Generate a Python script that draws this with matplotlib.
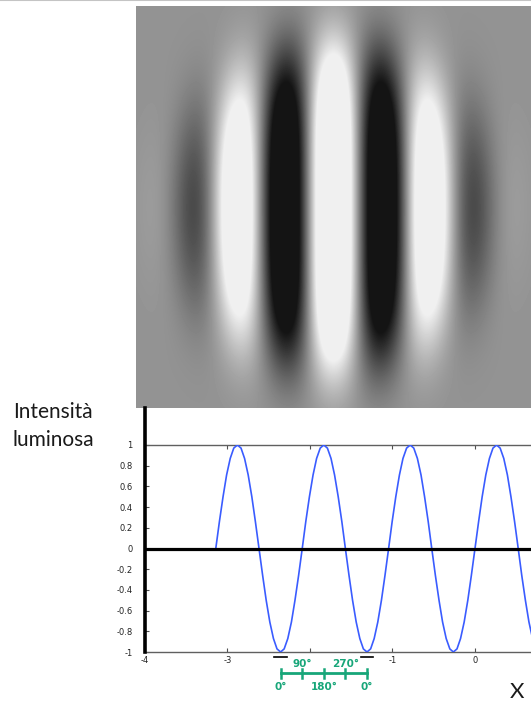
import numpy as np
import matplotlib
matplotlib.use("Agg")
import matplotlib.pyplot as plt
from matplotlib.lines import Line2D
from matplotlib.transforms import blended_transform_factory

# curva di intensità (campioni)
curve_x = [
    -3.142, -3.098, -3.054, -3.011, -2.967, -2.924, -2.880, -2.836, -2.793, -2.749,
    -2.705, -2.662, -2.618, -2.574, -2.531, -2.487, -2.443, -2.400, -2.356, -2.313,
    -2.269, -2.225, -2.182, -2.138, -2.094, -2.051, -2.007, -1.963, -1.920, -1.876,
    -1.833, -1.789, -1.745, -1.702, -1.658, -1.614, -1.571, -1.527, -1.484, -1.440,
    -1.396, -1.353, -1.309, -1.265, -1.222, -1.178, -1.134, -1.091, -1.047, -1.004,
    -0.960, -0.916, -0.873, -0.829, -0.785, -0.742, -0.698, -0.654, -0.611, -0.567,
    -0.524, -0.480, -0.436, -0.393, -0.349, -0.305, -0.262, -0.218, -0.175, -0.131,
    -0.087, -0.044, 0.000, 0.044, 0.087, 0.131, 0.175, 0.218, 0.262, 0.305,
    0.349, 0.393, 0.436, 0.480, 0.524, 0.567, 0.611, 0.654, 0.698,
]
curve_y = [
    0.00, 0.26, 0.50, 0.71, 0.87, 0.97, 1.00, 0.97, 0.87, 0.71,
    0.50, 0.26, 0.00, -0.26, -0.50, -0.71, -0.87, -0.97, -1.00, -0.97,
    -0.87, -0.71, -0.50, -0.26, 0.00, 0.26, 0.50, 0.71, 0.87, 0.97,
    1.00, 0.97, 0.87, 0.71, 0.50, 0.26, 0.00, -0.26, -0.50, -0.71,
    -0.87, -0.97, -1.00, -0.97, -0.87, -0.71, -0.50, -0.26, 0.00, 0.26,
    0.50, 0.71, 0.87, 0.97, 1.00, 0.97, 0.87, 0.71, 0.50, 0.26,
    0.00, -0.26, -0.50, -0.71, -0.87, -0.97, -1.00, -0.97, -0.87, -0.71,
    -0.50, -0.26, 0.00, 0.26, 0.50, 0.71, 0.87, 0.97, 1.00, 0.97,
    0.87, 0.71, 0.50, 0.26, 0.00, -0.26, -0.50, -0.71, -0.87,
]

yticks = [1, 0.8, 0.6, 0.4, 0.2, 0, -0.2, -0.4, -0.6, -0.8, -1]
ytick_labels = ["1", "0.8", "0.6", "0.4", "0.2", "0", "-0.2", "-0.4", "-0.6", "-0.8", "-1"]
xticks = [-4, -3, -2, -1, 0]
xtick_labels = ["-4", "-3", "", "-1", "0"]

# scala delle fasi (un periodo, da minimo a minimo)
phase_start = -2.356
phase_period = 1.047
phase_angles = [0, 90, 180, 270, 360]
phase_labels = ["0°", "90°", "180°", "270°", "0°"]

# parametri dello stimolo (Gabor)
gabor_size = (402, 395)     # righe, colonne
gabor_center = (201, 197)
gabor_wavelength = 98.0
gabor_radius = (160.0, 140.0)   # verticale, orizzontale
gabor_contrast = 0.85
gabor_bg = 0.576

W, H = 531, 704
fig = plt.figure(figsize=(W / 100, H / 100), dpi=100)
fig.patch.set_facecolor("white")

# linea grigia in alto
fig.add_artist(Line2D([0, 1], [0.9993, 0.9993], color="#c4c4c4", lw=1.5))

# --- immagine Gabor
rows, cols = gabor_size
yy, xx = np.mgrid[0:rows, 0:cols].astype(float)
dy = yy - gabor_center[0]
dx = xx - gabor_center[1]
q = (dx / gabor_radius[1]) ** 2 + (dy / gabor_radius[0]) ** 2
env = np.exp(-q ** 2)
img = gabor_bg + gabor_contrast * env * np.cos(2 * np.pi * dx / gabor_wavelength)
img = np.clip(img, 0.08, 0.94)

ax_img = fig.add_axes([136 / W, (H - 408) / H, 395 / W, 402 / H])
ax_img.imshow(img, cmap="gray", vmin=0, vmax=1, aspect="auto", interpolation="bilinear")
ax_img.axis("off")

# --- grafico
ax = fig.add_axes([145 / W, (H - 652) / H, 1 - 145 / W, (652 - 445) / H])
ax.plot(curve_x, curve_y, color="#3a5cff", lw=1.2, zorder=3)
ax.axhline(0, color="black", lw=2.3, zorder=4)
ax.set_xlim(-4, 0.679)
ax.set_ylim(-1, 1)

for side in ["left", "right"]:
    ax.spines[side].set_visible(False)
for side in ["top", "bottom"]:
    ax.spines[side].set_color("#606060")
    ax.spines[side].set_linewidth(1.0)

# asse verticale spesso che sale fino all'immagine
ax.plot([0, 0], [0, (652 - 408) / (652 - 445)], transform=ax.transAxes,
        color="black", lw=2.6, clip_on=False, zorder=5)

ax.set_yticks(yticks)
ax.set_yticklabels(ytick_labels)
ax.set_xticks(xticks)
ax.set_xticklabels(xtick_labels)
ax.tick_params(axis="both", direction="in", length=3, width=0.8, color="#505050",
               labelsize=6, labelcolor="#222222")
ax.tick_params(axis="x", top=True, pad=3)
ax.tick_params(axis="y", right=False, pad=9)

# scala delle fasi in verde
green = "#17a679"
tr = blended_transform_factory(ax.transData, fig.transFigure)
px = [phase_start + a / 360 * phase_period for a in phase_angles]
y_line = (H - 673) / H
tick_h = 4.5 / H
ax.plot([px[0], px[-1]], [y_line, y_line], transform=tr, color=green, lw=2,
        clip_on=False)
for i, (x, lab) in enumerate(zip(px, phase_labels)):
    ax.plot([x, x], [y_line - tick_h, y_line + tick_h], transform=tr, color=green,
            lw=1.8, clip_on=False)
    ty = (H - 664) / H if i % 2 == 1 else (H - 687) / H
    ax.text(x, ty, lab, transform=tr, color=green, fontsize=7.5, fontweight="bold",
            ha="center", va="center")

# trattini neri sotto i minimi
dash_y = (H - 657) / H
for x in [px[0], px[-1]]:
    ax.plot([x - 0.075, x + 0.075], [dash_y, dash_y], transform=tr, color="black",
            lw=1.2, clip_on=False)

# etichette
label_font = dict(fontfamily=["Lato", "DejaVu Sans"], fontweight="normal",
                  color="#1a1a1a", ha="center", va="center")
fig.text(53 / W, (H - 412) / H, "Intensità", fontsize=15, **label_font)
fig.text(53 / W, (H - 440) / H, "luminosa", fontsize=15, **label_font)
fig.text(517 / W, (H - 692) / H, "X", fontsize=16, **label_font)

fig.savefig("out.png", dpi=100, facecolor="white")
